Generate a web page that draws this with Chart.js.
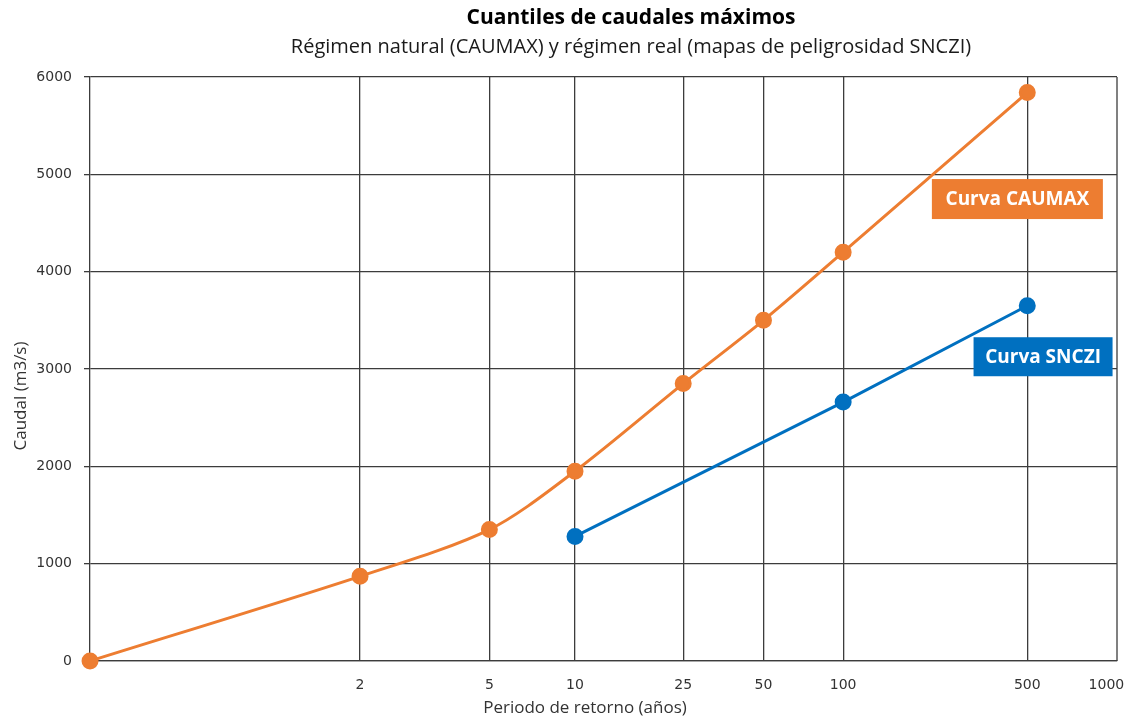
<!DOCTYPE html>
<html>
<head>
<meta charset="utf-8">
<script src="https://cdn.jsdelivr.net/npm/chart.js@4.4.1/dist/chart.umd.min.js"></script>
<style>
  html, body { margin: 0; padding: 0; background: #ffffff; }
  #wrap { width: 1135px; height: 722px; }
</style>
</head>
<body>
<div id="wrap"><canvas id="c" width="1135" height="722"></canvas></div>
<script>
// Return periods (years) and peak-flow quantiles (m3/s)
const caumaxPeriods = [1.00062, 2, 5, 10, 25, 50, 100, 500];
const caumaxFlows   = [0, 870, 1350, 1950, 2850, 3500, 4200, 5840];
const snczPeriods   = [10, 100, 500];
const snczFlows     = [1280, 2660, 3650];
// Return periods labelled on the horizontal axis
const periodTicks   = [2, 5, 10, 25, 50, 100, 500, 1000];
const flowTicks     = [0, 1000, 2000, 3000, 4000, 5000, 6000];

const titleText    = 'Cuantiles de caudales máximos';
const subtitleText = 'Régimen natural (CAUMAX) y régimen real (mapas de peligrosidad SNCZI)';
const xTitleText   = 'Periodo de retorno (años)';
const yTitleText   = 'Caudal (m3/s)';

// Gumbel reduced variate: the probability paper used for the horizontal axis
const gumbel = T => -Math.log(-Math.log(1 - 1 / T));

const ORANGE = '#ED7D31';
const BLUE = '#0070C0';
const GRID = '#3c3c3c';
const SANS = '"Open Sans", Lato, sans-serif';
const TICKFONT = '"DejaVu Sans", Verdana, sans-serif';

const toPoints = (periods, flows) => periods.map((T, i) => ({ x: gumbel(T), y: flows[i] }));

// Chart headings and axis titles
const headings = {
  id: 'headings',
  afterDraw(chart) {
    const { ctx } = chart;
    ctx.save();
    ctx.textAlign = 'center';
    ctx.textBaseline = 'middle';
    ctx.fillStyle = '#000000';
    ctx.font = 'bold 21px ' + SANS;
    ctx.fillText(titleText, 631, 18);
    ctx.fillStyle = '#1a1a1a';
    ctx.font = '20px ' + SANS;
    ctx.fillText(subtitleText, 631, 47);
    ctx.fillStyle = '#333333';
    ctx.font = '17px ' + SANS;
    ctx.fillText(xTitleText, 585, 708);
    ctx.translate(21, 396);
    ctx.rotate(-Math.PI / 2);
    ctx.fillText(yTitleText, 0, 0);
    ctx.restore();
  }
};

// Boxed curve names drawn over the plot
const curveLabels = {
  id: 'curveLabels',
  afterDatasetsDraw(chart, args, opts) {
    const { ctx, chartArea: a } = chart;
    ctx.save();
    opts.items.forEach(it => {
      const cx = a.left + it.fx * (a.right - a.left);
      const cy = a.top + it.fy * (a.bottom - a.top);
      ctx.fillStyle = it.color;
      ctx.fillRect(cx - it.w / 2, cy - it.h / 2, it.w, it.h);
      ctx.fillStyle = '#ffffff';
      ctx.font = 'bold 19px ' + SANS;
      ctx.textAlign = 'center';
      ctx.textBaseline = 'middle';
      ctx.fillText(it.text, cx, cy + 1);
    });
    ctx.restore();
  }
};

// Closes the plot frame on the right-hand side
const frame = {
  id: 'frame',
  beforeDatasetsDraw(chart) {
    const { ctx, chartArea: a } = chart;
    ctx.save();
    ctx.strokeStyle = GRID;
    ctx.lineWidth = 1.3;
    ctx.beginPath();
    ctx.moveTo(a.right, a.top);
    ctx.lineTo(a.right, a.bottom);
    ctx.stroke();
    ctx.restore();
  }
};

new Chart(document.getElementById('c'), {
  type: 'line',
  data: {
    datasets: [
      {
        label: 'Curva CAUMAX',
        data: toPoints(caumaxPeriods, caumaxFlows),
        borderColor: ORANGE,
        backgroundColor: ORANGE,
        borderWidth: 3,
        pointRadius: 7,
        pointHoverRadius: 7,
        tension: 0.3,
        clip: false
      },
      {
        label: 'Curva SNCZI',
        data: toPoints(snczPeriods, snczFlows),
        borderColor: BLUE,
        backgroundColor: BLUE,
        borderWidth: 3,
        pointRadius: 7,
        pointHoverRadius: 7,
        tension: 0,
        clip: false
      }
    ]
  },
  options: {
    responsive: false,
    animation: false,
    events: [],
    layout: { padding: { left: 0, right: 18, top: 77, bottom: 0 } },
    plugins: {
      legend: { display: false },
      tooltip: { enabled: false },
      title: { display: false },
      curveLabels: {
        items: [
          { text: 'Curva CAUMAX', color: ORANGE, fx: 0.903, fy: 0.209, w: 171, h: 40 },
          { text: 'Curva SNCZI', color: BLUE, fx: 0.928, fy: 0.479, w: 139, h: 39 }
        ]
      }
    },
    scales: {
      x: {
        type: 'linear',
        min: -2,
        max: 7,
        afterFit(scale) {
          scale.height = 61;
          scale.paddingLeft = 0;
          scale.paddingRight = 0;
        },
        afterBuildTicks(scale) {
          scale.ticks = periodTicks.map(T => ({ value: gumbel(T) }));
        },
        ticks: {
          autoSkip: false,
          maxRotation: 0,
          color: '#333333',
          font: { family: TICKFONT, size: 14 },
          padding: 16,
          callback: (value, index) => String(periodTicks[index])
        },
        grid: {
          drawTicks: false,
          color: ctx => (ctx.type === 'tick' && periodTicks[ctx.index] === 1000) ? 'rgba(0,0,0,0)' : GRID,
          lineWidth: 1.3
        },
        border: { display: true, color: GRID, width: 1.3 }
      },
      y: {
        type: 'linear',
        min: 0,
        max: 6000,
        afterFit(scale) {
          scale.width = 90;
          scale.paddingTop = 0;
          scale.paddingBottom = 0;
        },
        afterBuildTicks(scale) {
          scale.ticks = flowTicks.map(v => ({ value: v }));
        },
        ticks: {
          color: '#333333',
          font: { family: TICKFONT, size: 14 },
          padding: 12,
          callback: value => String(value)
        },
        grid: {
          drawTicks: true,
          tickLength: 6,
          color: GRID,
          lineWidth: 1.3
        },
        border: { display: true, color: GRID, width: 1.3 }
      }
    }
  },
  plugins: [frame, curveLabels, headings]
});
</script>
</body>
</html>
